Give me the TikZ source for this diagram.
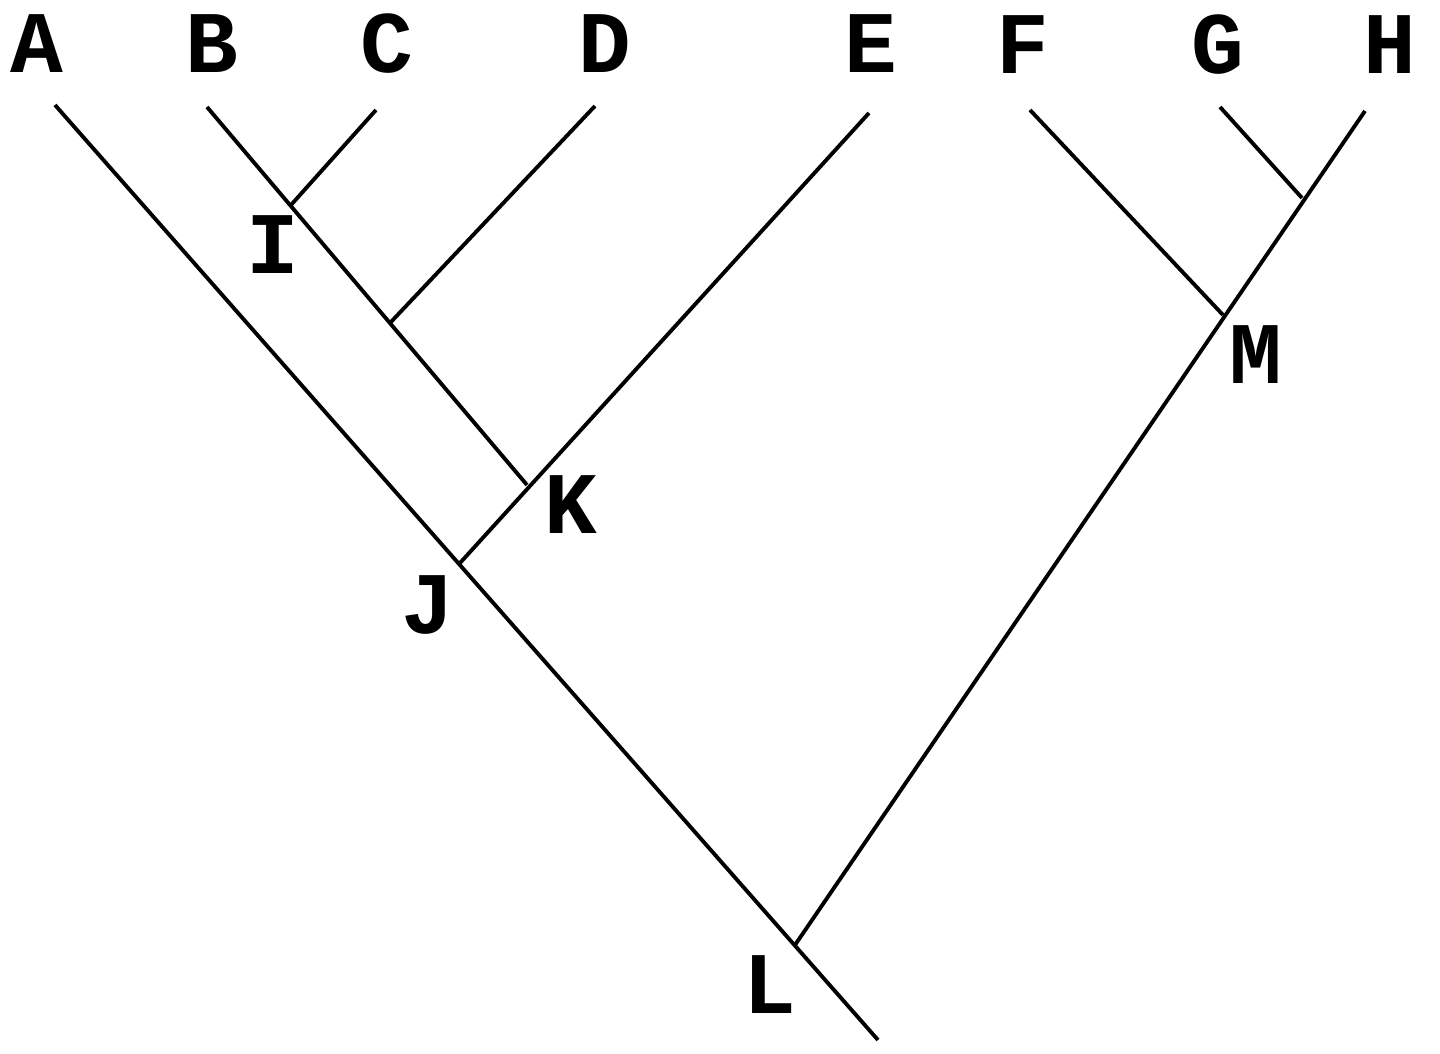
\documentclass[tikz,border=0pt]{standalone}
\usepackage{fontspec}
\setmonofont{Liberation Mono}
\usetikzlibrary{positioning}

\begin{document}
\begin{tikzpicture}[
    every node/.style={
        inner sep=0pt,
        font=\ttfamily\bfseries\fontsize{25}{28}\selectfont
    },
    branch/.style={line width=1.1pt, black}
]
    \useasboundingbox (0, 0) rectangle (14.4, 10.54);

    % taxa at the top
    \node (A) at (0.37, 10.10) {A};
    \node (B) at (2.12, 10.10) {B};
    \node (C) at (3.87, 10.10) {C};
    \node (D) at (6.05, 10.10) {D};
    \node (E) at (8.71, 10.10) {E};
    \node (F) at (10.23, 10.09) {F};
    \node (G) at (12.18, 10.09) {G};
    \node (H) at (13.90, 10.09) {H};

    % branch tips
    \coordinate (tip_A) at (0.55, 9.49);
    \coordinate (tip_B) at (2.07, 9.47);
    \coordinate (tip_C) at (3.76, 9.44);
    \coordinate (tip_D) at (5.95, 9.48);
    \coordinate (tip_E) at (8.69, 9.41);
    \coordinate (tip_F) at (10.30, 9.44);
    \coordinate (tip_G) at (12.20, 9.47);
    \coordinate (tip_H) at (13.65, 9.43);

    % branch points
    \coordinate (node_I) at (2.91, 8.49);
    \coordinate (node_BD) at (3.90, 7.31);
    \coordinate (node_K) at (5.27, 5.69);
    \coordinate (node_J) at (4.60, 4.91);
    \coordinate (node_L) at (7.95, 1.09);
    \coordinate (root) at (8.78, 0.14);
    \coordinate (node_M) at (12.23, 7.39);
    \coordinate (node_GH) at (13.02, 8.56);

    % labels of the branch points
    \node (I) at (2.73, 8.09) {I};
    \node (J) at (4.28, 4.49) {J};
    \node (K) at (5.71, 5.49) {K};
    \node (L) at (7.70, 0.69) {L};
    \node (M) at (12.56, 6.99) {M};

    \draw[branch] (tip_A) to (root);
    \draw[branch] (tip_B) to (node_K);
    \draw[branch] (tip_C) to (node_I);
    \draw[branch] (tip_D) to (node_BD);
    \draw[branch] (tip_E) to (node_J);
    \draw[branch] (tip_H) to (node_L);
    \draw[branch] (tip_F) to (node_M);
    \draw[branch] (tip_G) to (node_GH);
\end{tikzpicture}
\end{document}
